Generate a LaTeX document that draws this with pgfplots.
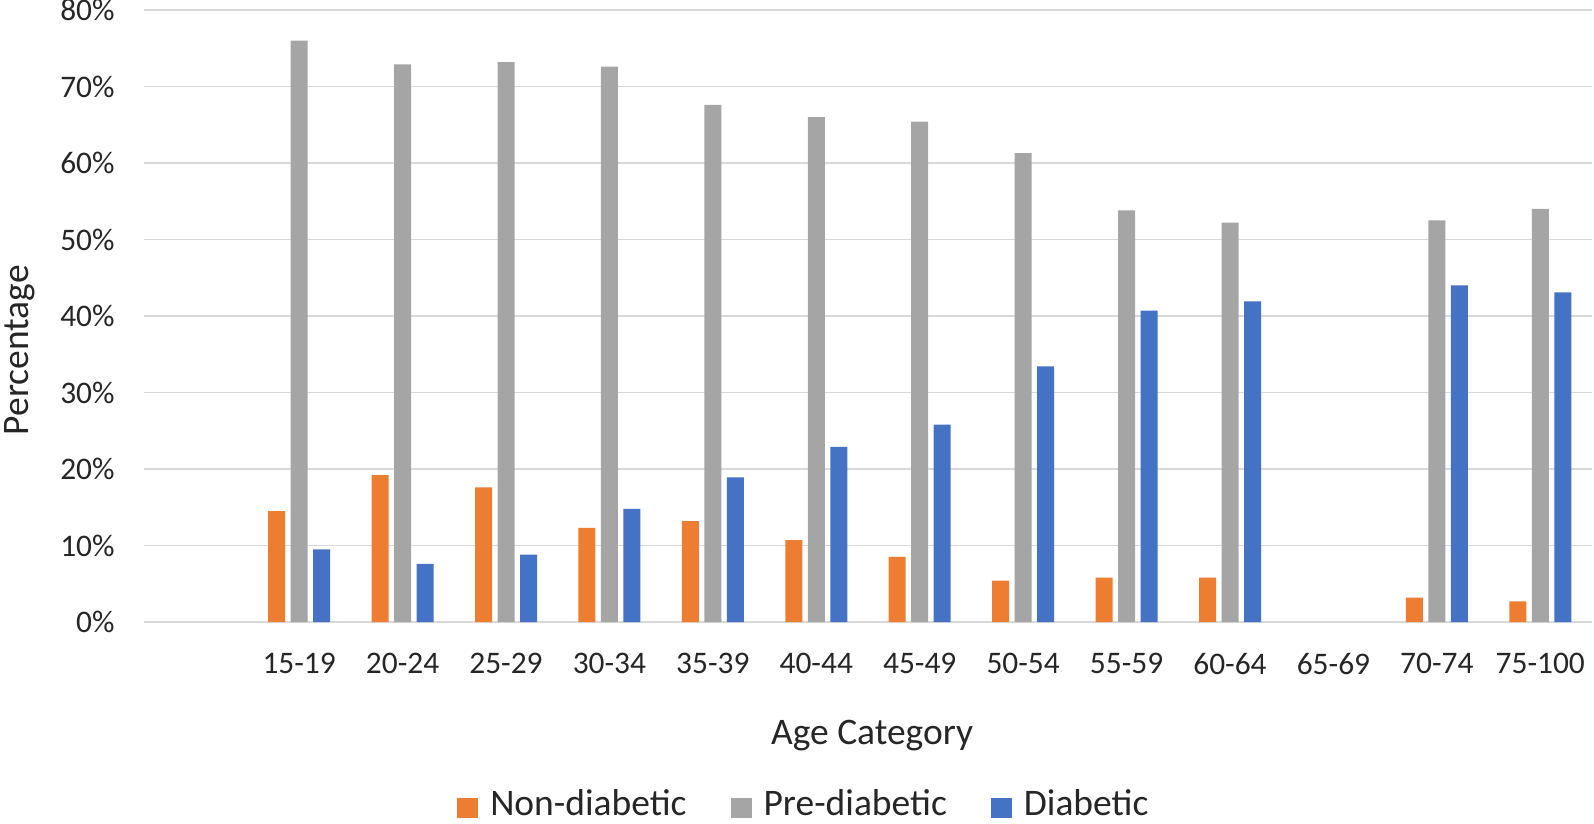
\documentclass[border=0pt]{standalone}
\usepackage{pgfplots}
\pgfplotsset{compat=1.18}
\usepackage{fontspec}
\setmainfont{Carlito}
\definecolor{cOrange}{HTML}{ED7D31}
\definecolor{cGray}{HTML}{A5A5A5}
\definecolor{cBlue}{HTML}{4472C4}
\definecolor{cGrid}{HTML}{D9D9D9}
\definecolor{cText}{HTML}{262626}
\begin{document}
\begin{tikzpicture}
\useasboundingbox (-72bp,-101bp) rectangle (725bp,311bp);
\begin{axis}[
  scale only axis,
  width=724bp, height=306bp,
  at={(0,0)}, anchor=south west,
  xmin=-1.5, xmax=12.5,
  ymin=0, ymax=80,
  enlargelimits=false,
  ybar=2.75bp, bar width=8.5bp,
  axis line style={draw=none},
  tick style={draw=none},
  major tick length=0pt,
  ymajorgrids,
  major grid style={draw=cGrid, line width=0.9bp},
  xtick={0,...,12},
  xticklabels={15-19,20-24,25-29,30-34,35-39,40-44,45-49,50-54,55-59,60-64,65-69,70-74,75-100},
  ytick={0,10,...,80},
  yticklabels={0\%,10\%,20\%,30\%,40\%,50\%,60\%,70\%,80\%},
  tick label style={font=\fontsize{15.7bp}{18bp}\selectfont, text=cText, inner sep=0pt},
  xticklabel style={anchor=north, yshift=-15.5bp},
  yticklabel style={anchor=east, xshift=-14.5bp},
  xlabel={Age Category},
  ylabel={Percentage},
  label style={font=\fontsize{18.75bp}{22bp}\selectfont, text=cText, inner sep=0pt},
  xlabel style={at={(rel axis cs:0.5028,-0.160)}, anchor=north},
  ylabel style={at={(rel axis cs:-0.0965,0.444)}, anchor=north, rotate=0},
  legend columns=3,
  legend style={
    at={(rel axis cs:0.455,-0.298)}, anchor=center,
    draw=none, fill=none, inner sep=0pt,
    font=\fontsize{18.75bp}{22bp}\selectfont, text=cText,
    /tikz/every even column/.append style={column sep=22bp},
    nodes={inner sep=0pt},
  },
  legend image code/.code={\fill[#1] (0bp,-7bp) rectangle (10.5bp,3bp);},
  clip=false,
]
\addplot[fill=cOrange, draw=none] coordinates {
(0,14.5) (1,19.2) (2,17.6) (3,12.3) (4,13.2) (5,10.7) (6,8.5) (7,5.4) (8,5.8) (9,5.8) (11,3.2) (12,2.7)};
\addplot[fill=cGray, draw=none] coordinates {
(0,76.0) (1,72.9) (2,73.2) (3,72.6) (4,67.6) (5,66.0) (6,65.4) (7,61.3) (8,53.8) (9,52.2) (11,52.5) (12,54.0)};
\addplot[fill=cBlue, draw=none] coordinates {
(0,9.5) (1,7.6) (2,8.8) (3,14.8) (4,18.9) (5,22.9) (6,25.8) (7,33.4) (8,40.7) (9,41.9) (11,44.0) (12,43.1)};
\legend{\hspace{6bp}Non-diabetic,\hspace{6bp}Pre-diabetic,\hspace{6bp}Diabetic}
\end{axis}
\end{tikzpicture}
\end{document}
